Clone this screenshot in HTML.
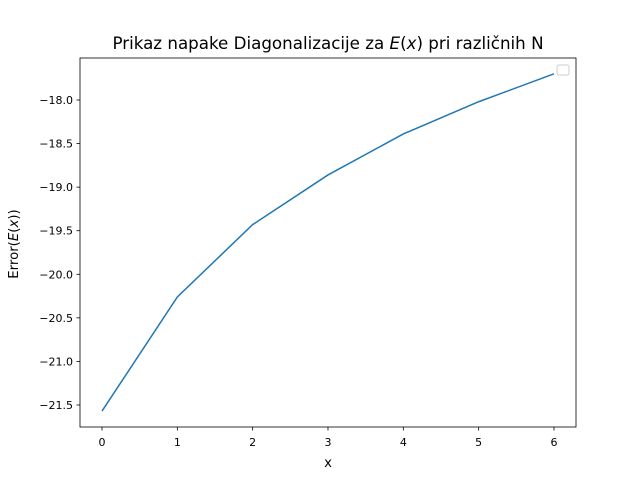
<!DOCTYPE html>
<html><head><meta charset="utf-8"><style>
body{margin:0;background:#fff;}
svg{display:block;font-family:"DejaVu Sans","Liberation Sans",sans-serif;}
</style></head><body>
<svg id="chart" width="640" height="480">
<rect width="640" height="480" fill="#fff"/>
<text x="328" y="49" font-size="16.7" text-anchor="middle">Prikaz napake Diagonalizacije za <tspan font-style="italic">E</tspan>(<tspan font-style="italic">x</tspan>) pri različnih N</text>
<g id="axes"></g>
<path id="line" fill="none" stroke="#1f77b4" stroke-width="1.5"/>
<rect x="80" y="58" width="496" height="369" fill="none" stroke="#000" stroke-width="0.8"/>
<rect x="557" y="65" width="12" height="10" rx="2" fill="#fff" stroke="#ccc" stroke-width="1"/>
<text x="328" y="467" font-size="13.3" text-anchor="middle">x</text>
<text transform="translate(18,244) rotate(-90)" font-size="13.3" text-anchor="middle">Error(<tspan font-style="italic">E</tspan>(<tspan font-style="italic">x</tspan>))</text>
</svg>
<script>
const xs=[0,1,2,3,4,5,6];
const ys=[-21.57,-20.26,-19.43,-18.86,-18.39,-18.02,-17.70];
const xTicks=[0,1,2,3,4,5,6];
const yTicks=[-21.5,-21.0,-20.5,-20.0,-19.5,-19.0,-18.5,-18.0];
const X=v=>102+v*75.33;
const Y=v=>100+(-18-v)*87.14;
const ns="http://www.w3.org/2000/svg";
const g=document.getElementById('axes');
xTicks.forEach(t=>{
 const l=document.createElementNS(ns,'line');
 l.setAttribute('x1',X(t));l.setAttribute('x2',X(t));l.setAttribute('y1',427);l.setAttribute('y2',430.5);l.setAttribute('stroke','#000');l.setAttribute('stroke-width','0.8');
 
 
 g.appendChild(l);
 const tx=document.createElementNS(ns,'text');
 tx.setAttribute('x',X(t));tx.setAttribute('y',446);tx.setAttribute('font-size','11');tx.setAttribute('text-anchor','middle');tx.textContent=t;
 
 
 g.appendChild(tx);
});
yTicks.forEach(t=>{
 const l=document.createElementNS(ns,'line');
 l.setAttribute('x1',76.5);l.setAttribute('x2',80);l.setAttribute('y1',Y(t));l.setAttribute('y2',Y(t));l.setAttribute('stroke','#000');l.setAttribute('stroke-width','0.8');
 
 
 g.appendChild(l);
 const tx=document.createElementNS(ns,'text');
 tx.setAttribute('x',73);tx.setAttribute('y',Y(t)+4);tx.setAttribute('font-size','11');tx.setAttribute('text-anchor','end');tx.textContent='\u2212'+Math.abs(t).toFixed(1);
 
 
 g.appendChild(tx);
});
document.getElementById('line').setAttribute('d',xs.map((x,i)=>(i?'L':'M')+X(x)+','+Y(ys[i])).join(' '));
</script>
</body></html>
